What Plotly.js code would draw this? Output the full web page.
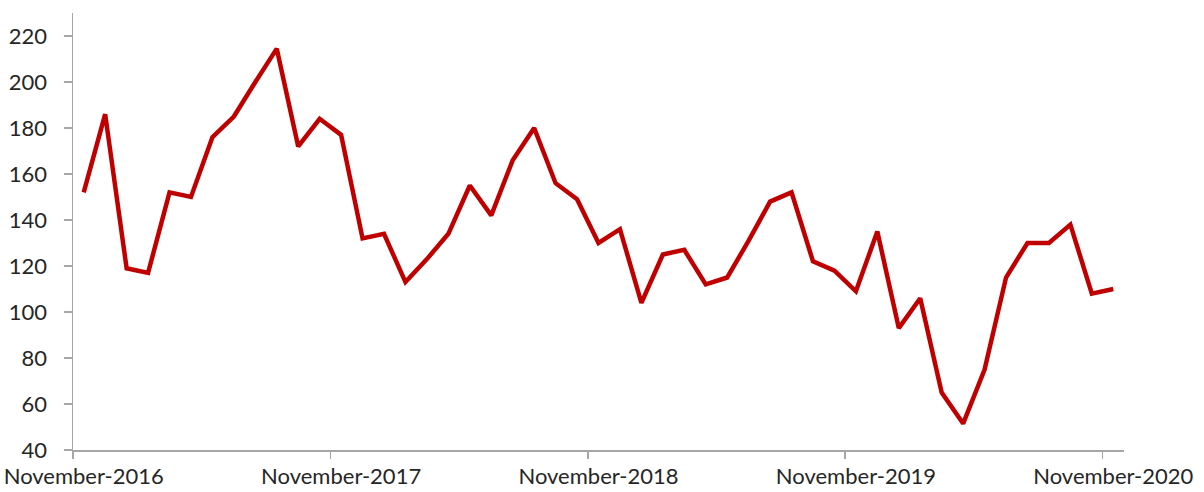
<!DOCTYPE html>
<html>
<head>
<meta charset="utf-8">
<script src="https://cdn.plot.ly/plotly-3.0.1.min.js"></script>
<style>html,body{margin:0;padding:0;background:#fff;overflow:hidden;}#chart{width:1204px;height:492px;}</style>
</head>
<body>
<div id="chart"></div>
<script>
var months = ["Nov-2016","Dec-2016","Jan-2017","Feb-2017","Mar-2017","Apr-2017","May-2017","Jun-2017","Jul-2017","Aug-2017","Sep-2017","Oct-2017",
"Nov-2017","Dec-2017","Jan-2018","Feb-2018","Mar-2018","Apr-2018","May-2018","Jun-2018","Jul-2018","Aug-2018","Sep-2018","Oct-2018",
"Nov-2018","Dec-2018","Jan-2019","Feb-2019","Mar-2019","Apr-2019","May-2019","Jun-2019","Jul-2019","Aug-2019","Sep-2019","Oct-2019",
"Nov-2019","Dec-2019","Jan-2020","Feb-2020","Mar-2020","Apr-2020","May-2020","Jun-2020","Jul-2020","Aug-2020","Sep-2020","Oct-2020",
"Nov-2020"];
var values = [152,186,119,117,152,150,176,185,200,214.5,172,184,
177,132,134,113,123,134,155,142,166,180,156,149,
130,136,104,125,127,112,115,131,148,152,122,118,
109,135,93,106,65,51.5,75,115,130,130,138,108,
110];
var tickLabels = ["November-2016","November-2017","November-2018","November-2019","November-2020"];
var tickIdx = [0,12,24,36,48];
var yTicks = [40,60,80,100,120,140,160,180,200,220];

var xs = months.map(function(_, i){ return i; });
var tickMarkVals = tickIdx.map(function(i){ return i - 0.5; });

var trace = {
  x: xs, y: values, type: 'scatter', mode: 'lines',
  line: {color: '#C00000', width: 4.5, shape: 'linear'},
  hoverinfo: 'skip'
};
// invisible helper trace on the second x axis so that its tick marks are drawn
var helper = {
  x: [tickMarkVals[0]], y: [yTicks[0]], xaxis: 'x2', type: 'scatter', mode: 'markers',
  marker: {opacity: 0}, hoverinfo: 'skip'
};
var yfont = {family: 'Lato, "Open Sans", sans-serif', size: 22, color: '#262626'};
var xfont = {family: 'Lato, "Open Sans", sans-serif', size: 22, color: '#262626'};
var layout = {
  width: 1204, height: 492,
  margin: {l: 73, r: 80, t: 13, b: 42},
  paper_bgcolor: '#fff', plot_bgcolor: '#fff',
  showlegend: false,
  font: yfont,
  xaxis: {
    range: [-0.5, 48.5],
    tickmode: 'array', tickvals: tickIdx, ticktext: tickLabels,
    showgrid: false, zeroline: false,
    showline: true, linecolor: '#A6A6A6', linewidth: 1.5,
    ticks: '', ticklabelstandoff: 6, ticklabeloverflow: 'allow',
    tickfont: xfont, fixedrange: true
  },
  xaxis2: {
    range: [-0.5, 48.5], overlaying: 'x', anchor: 'y', side: 'bottom',
    tickmode: 'array', tickvals: tickMarkVals,
    showticklabels: false, showgrid: false, zeroline: false, showline: false,
    ticks: 'outside', ticklen: 8, tickcolor: '#A6A6A6', tickwidth: 1.5,
    fixedrange: true
  },
  yaxis: {
    range: [40, 230],
    tickmode: 'array', tickvals: yTicks,
    showgrid: false, zeroline: false,
    showline: true, linecolor: '#A6A6A6', linewidth: 1.5,
    ticks: 'outside', ticklen: 8, tickcolor: '#A6A6A6', tickwidth: 1.5,
    ticklabelstandoff: 12,
    tickfont: yfont, fixedrange: true
  }
};
Plotly.newPlot('chart', [trace, helper], layout, {displayModeBar: false, staticPlot: true});
</script>
</body>
</html>
